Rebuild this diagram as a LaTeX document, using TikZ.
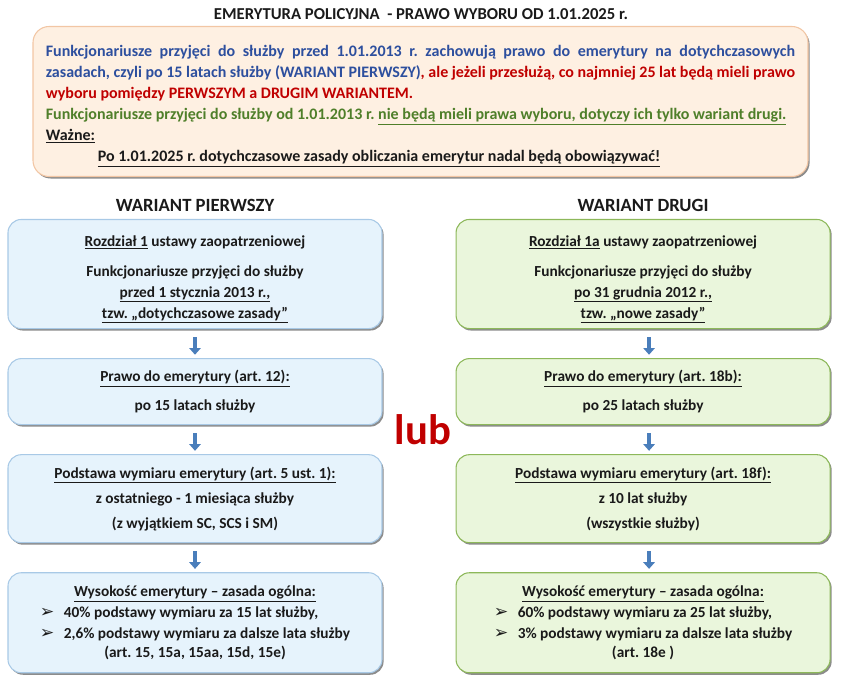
\documentclass[tikz,border=0pt]{standalone}
\usepackage{fontspec}
\setmainfont{Carlito}
\newfontfamily\symfont{DejaVu Sans}
\usepackage{tikz}
\usetikzlibrary{arrows.meta,positioning,shadows}
\usepackage{xcolor}
\definecolor{ink}{HTML}{1A1A1A}
\definecolor{infoblue}{HTML}{2D4F9E}
\definecolor{infored}{HTML}{C00000}
\definecolor{infogreen}{HTML}{4F7F2A}
\definecolor{notefill}{HTML}{FEF0E2}
\definecolor{noteline}{HTML}{F2C6A4}
\definecolor{leftfill}{HTML}{E6F3FC}
\definecolor{leftline}{HTML}{A8C9E6}
\definecolor{rightfill}{HTML}{EAF6DC}
\definecolor{rightline}{HTML}{8DB85A}
\definecolor{arrowblue}{HTML}{4A7EBB}
\frenchspacing
\tikzset{
  >=Latex,
  every node/.style={font=\bfseries\fontsize{11.5}{15.75}\selectfont,text=ink},
  box/.style={draw=leftline,line width=0.8pt,rounded corners=10pt,fill=leftfill,minimum width=280.5pt,align=center,inner sep=4pt,
    drop shadow={shadow xshift=1.2pt,shadow yshift=-1.5pt,fill=black,opacity=0.45}},
  leftbox/.style={box},
  rightbox/.style={box,fill=rightfill,draw=rightline},
  notebox/.style={box,fill=notefill,draw=noteline,rounded corners=12pt,minimum width=581.25pt,minimum height=112.5pt,
    text width=562pt,align=justify,inner xsep=9.5pt,font=\bfseries\fontsize{12}{15.75}\selectfont},
  head/.style={font=\bfseries\fontsize{14}{16}\selectfont},
  titletext/.style={font=\bfseries\fontsize{12.5}{15}\selectfont},
  lubtext/.style={font=\bfseries\fontsize{32}{36}\selectfont,text=infored},
  arrow/.style={-{Triangle[length=5pt,width=8.5pt]},line width=3.6pt,draw=arrowblue,shorten <=6pt,shorten >=2.5pt},
}
\newcommand{\bul}{{\symfont\mdseries\fontsize{13}{13}\selectfont ➢}\hspace{7pt}}

\begin{document}
\begin{tikzpicture}[x=0.75pt,y=-0.75pt,node distance=21.75pt]
\useasboundingbox (0,0) rectangle (842,679);

\node[titletext] (title) at (421,14) {EMERYTURA POLICYJNA\ \ - PRAWO WYBORU OD 1.01.2025 r.};

\node[notebox] (info) at (420.5,101.5) {\parindent=0pt\leavevmode\rule{0pt}{15pt}%
{\color{infoblue}Funkcjonariusze przyjęci do służby przed 1.01.2013 r. zachowują prawo do emerytury na dotychczasowych\linebreak zasadach, czyli po 15 latach służby (WARIANT PIERWSZY)}{\color{infored}, ale jeżeli przesłużą, co najmniej 25 lat będą mieli prawo\linebreak wyboru pomiędzy PERWSZYM a DRUGIM WARIANTEM.}\par
{\color{infogreen}Funkcjonariusze przyjęci do służby od 1.01.2013 r. \underline{nie będą mieli prawa wyboru, dotyczy ich tylko wariant drugi.}}\par
\underline{Ważne:}\par
\hspace*{39pt}\underline{Po 1.01.2025 r. dotychczasowe zasady obliczania emerytur nadal będą obowiązywać!}};

% wariant pierwszy
\node[leftbox,minimum height=79.5pt] (l1) at (195,274)
{\rule{0pt}{16pt}\underline{Rozdział 1} ustawy zaopatrzeniowej\\[6.75pt] Funkcjonariusze przyjęci do służby\\ \underline{przed 1 stycznia 2013 r.,}\\ \underline{tzw. „dotychczasowe zasady”}};
\node[leftbox,minimum height=49.5pt,below=of l1] (l2)
{\underline{Prawo do emerytury (art. 12):}\\[6pt] po 15 latach służby};
\node[leftbox,minimum height=66pt,below=of l2] (l3)
{\underline{Podstawa wymiaru emerytury (art. 5 ust. 1):}\\[3pt] z ostatniego - 1 miesiąca służby\\[3pt] (z wyjątkiem SC, SCS i SM)};
\node[leftbox,minimum height=75pt,below=of l3] (l4)
{\underline{Wysokość emerytury – zasada ogólna:}\\
\begin{tabular}{@{}l@{}}\bul 40\% podstawy wymiaru za 15 lat służby,\\ \bul 2,6\% podstawy wymiaru za dalsze lata służby\end{tabular}\\
(art. 15, 15a, 15aa, 15d, 15e)};
\node[head,above=2pt of l1] (lhead) {WARIANT PIERWSZY};

% wariant drugi
\node[rightbox,minimum height=79.5pt,right=54.75pt of l1] (r1)
{\rule{0pt}{16pt}\underline{Rozdział 1a} ustawy zaopatrzeniowej\\[6.75pt] Funkcjonariusze przyjęci do służby\\ \underline{po 31 grudnia 2012 r.,}\\ \underline{tzw. „nowe zasady”}};
\node[rightbox,minimum height=49.5pt,below=of r1] (r2)
{\underline{Prawo do emerytury (art. 18b):}\\[6pt] po 25 latach służby};
\node[rightbox,minimum height=66pt,below=of r2] (r3)
{\underline{Podstawa wymiaru emerytury (art. 18f):}\\[3pt] z 10 lat służby\\[3pt] (wszystkie służby)};
\node[rightbox,minimum height=75pt,below=of r3] (r4)
{\underline{Wysokość emerytury – zasada ogólna:}\\
\begin{tabular}{@{}l@{}}\bul 60\% podstawy wymiaru za 25 lat służby,\\ \bul 3\% podstawy wymiaru za dalsze lata służby\end{tabular}\\
(art. 18e )};
\node[head,above=2pt of r1] (rhead) {WARIANT DRUGI};

\node[lubtext] (lub) at (423,430) {lub};

\draw[arrow] (l1) -- (l2);
\draw[arrow] (l2) -- (l3);
\draw[arrow] (l3) -- (l4);
\draw[arrow] ([xshift=4.5pt]r1.south) -- ([xshift=4.5pt]r2.north);
\draw[arrow] ([xshift=4.5pt]r2.south) -- ([xshift=4.5pt]r3.north);
\draw[arrow] ([xshift=4.5pt]r3.south) -- ([xshift=4.5pt]r4.north);
\end{tikzpicture}
\end{document}
